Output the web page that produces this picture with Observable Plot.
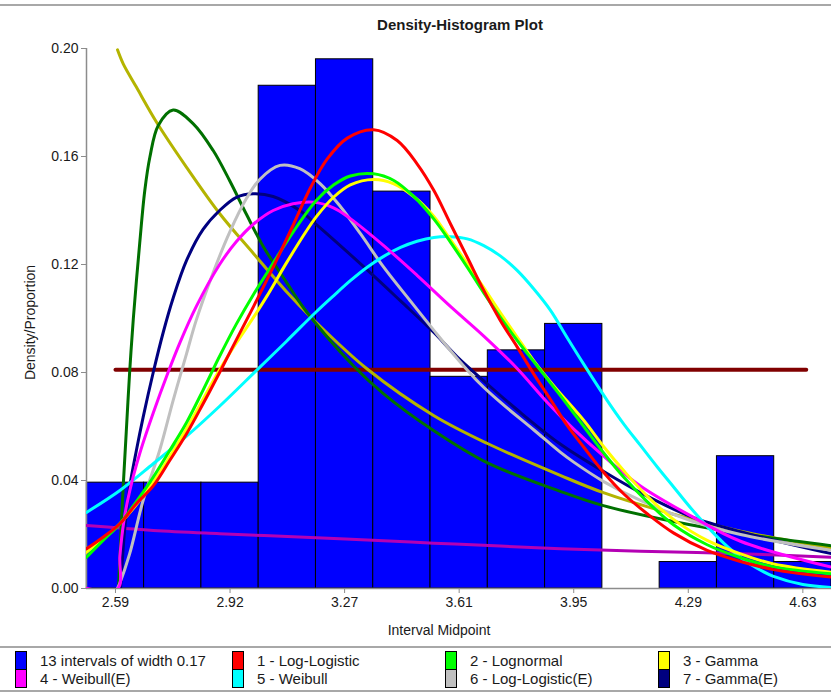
<!DOCTYPE html>
<html><head><meta charset="utf-8">
<script src="https://cdn.jsdelivr.net/npm/d3@7"></script>
<script src="https://cdn.jsdelivr.net/npm/@observablehq/plot@0.6"></script>
<style>
body{margin:0;background:#fff;font-family:"Liberation Sans",Arial,sans-serif;color:#1a1a1a;}
#wrap{position:relative;width:831px;height:694px;overflow:hidden;background:#fff}
#topline{position:absolute;left:0;top:4px;width:831px;height:2px;background:#a8a8a8}
#title{position:absolute;left:89px;width:742px;top:15px;text-align:center;font-weight:bold;font-size:15px;line-height:20px}
#chart{position:absolute;left:0;top:36px}
.rule{position:absolute;left:0;width:831px;height:2px;background:#a8a8a8}
.sw{position:absolute;width:10px;height:17px;border:1px solid #000}
.lab{position:absolute;font-size:15px;line-height:18px;white-space:nowrap}
</style></head>
<body><div id="wrap">
<div id="topline"></div>
<div id="title">Density-Histogram Plot</div>
<div id="chart"></div>
<div class="rule" style="top:646px"></div>
<div class="rule" style="top:690px"></div>
<div id="legend"></div>
</div>
<script>
// ---- histogram ----
const binMid = [2.59, 2.76, 2.93, 3.10, 3.27, 3.44, 3.61, 3.78, 3.95, 4.12, 4.29, 4.46, 4.63];
const binDensity = [0.0392, 0.0392, 0.0392, 0.1862, 0.196, 0.147, 0.0784, 0.0882, 0.098, 0, 0.0098, 0.049, 0.0098];
const binWidth = 0.17;

// ---- axes ----
const yTicks = [0, 0.04, 0.08, 0.12, 0.16, 0.20];
const xTickPos = [2.59, 2.93, 3.27, 3.61, 3.95, 4.29, 4.63];
const xTickLabels = ["2.59", "2.92", "3.27", "3.61", "3.95", "4.29", "4.63"];

// ---- fitted density curves [x, density] ----
const logLogistic = [[2.504,0.0147],[2.553,0.019],[2.603,0.024],[2.652,0.0314],[2.702,0.0380],[2.751,0.0474],[2.801,0.0573],[2.850,0.0684],[2.899,0.0800],[2.949,0.0922],[3.000,0.1045],[3.058,0.1190],[3.117,0.1345],[3.169,0.1485],[3.218,0.1590],[3.278,0.1668],[3.356,0.1699],[3.426,0.1659],[3.485,0.1573],[3.535,0.1474],[3.584,0.1351],[3.634,0.1227],[3.683,0.1104],[3.732,0.0993],[3.782,0.0895],[3.831,0.0795],[3.881,0.0700],[3.930,0.0605],[3.980,0.0523],[4.039,0.0430],[4.098,0.0351],[4.168,0.0277],[4.247,0.0205],[4.346,0.0141],[4.445,0.0100],[4.543,0.0070],[4.715,0.0042]];
const lognormal = [[2.504,0.0116],[2.553,0.0178],[2.603,0.024],[2.652,0.0322],[2.702,0.0412],[2.751,0.0511],[2.801,0.0615],[2.850,0.0735],[2.899,0.0860],[2.949,0.0980],[3.000,0.1090],[3.058,0.1205],[3.117,0.1320],[3.186,0.1437],[3.238,0.1495],[3.287,0.1528],[3.356,0.1536],[3.416,0.1511],[3.475,0.1452],[3.535,0.1368],[3.584,0.1283],[3.634,0.1190],[3.683,0.1095],[3.732,0.1005],[3.782,0.0919],[3.841,0.0825],[3.910,0.0715],[3.980,0.0600],[4.039,0.0502],[4.098,0.0413],[4.168,0.0322],[4.247,0.0235],[4.346,0.0162],[4.445,0.0114],[4.543,0.0080],[4.715,0.0054]];
const gamma = [[2.504,0.0134],[2.603,0.024],[2.702,0.0394],[2.801,0.0592],[2.899,0.0810],[2.949,0.0910],[3.000,0.1005],[3.038,0.1080],[3.097,0.1205],[3.157,0.1325],[3.188,0.1380],[3.238,0.1450],[3.287,0.1495],[3.356,0.1515],[3.416,0.1499],[3.475,0.1452],[3.535,0.1378],[3.584,0.1292],[3.634,0.1203],[3.683,0.1114],[3.732,0.1022],[3.782,0.0931],[3.831,0.0844],[3.891,0.0750],[3.980,0.0622],[4.039,0.0525],[4.098,0.0437],[4.168,0.0342],[4.247,0.0255],[4.346,0.0178],[4.445,0.0128],[4.543,0.0091],[4.715,0.0060]];
const weibullE = [[2.504,0],[2.597,0],[2.603,0.012],[2.615,0.025],[2.632,0.036],[2.662,0.050],[2.702,0.065],[2.746,0.080],[2.781,0.091],[2.830,0.1045],[2.899,0.1200],[2.949,0.1285],[3.000,0.1350],[3.058,0.1400],[3.117,0.1425],[3.177,0.1431],[3.237,0.1410],[3.287,0.1370],[3.386,0.1270],[3.485,0.1160],[3.584,0.1045],[3.683,0.0935],[3.782,0.0815],[3.871,0.0690],[3.950,0.0590],[4.039,0.0490],[4.148,0.0380],[4.296,0.0270],[4.445,0.0175],[4.715,0.0079]];
const weibull = [[2.504,0.0282],[2.603,0.0363],[2.702,0.0462],[2.801,0.0564],[2.899,0.0675],[3.008,0.0807],[3.097,0.0915],[3.186,0.1025],[3.238,0.1085],[3.287,0.1140],[3.337,0.1190],[3.386,0.1230],[3.436,0.1263],[3.485,0.1286],[3.535,0.1300],[3.584,0.1303],[3.634,0.1295],[3.683,0.1270],[3.732,0.1232],[3.782,0.1178],[3.831,0.1110],[3.881,0.1030],[3.930,0.0930],[3.980,0.0830],[4.049,0.0697],[4.098,0.0610],[4.148,0.0530],[4.198,0.0450],[4.247,0.0375],[4.296,0.0300],[4.346,0.0230],[4.395,0.0168],[4.445,0.0115],[4.494,0.0075],[4.543,0.0045],[4.630,0.0015],[4.715,0.0004]];
const logLogisticE = [[2.596,0],[2.603,0.002],[2.632,0.0128],[2.672,0.0326],[2.721,0.0511],[2.761,0.0696],[2.801,0.0870],[2.830,0.0995],[2.880,0.1170],[2.929,0.1320],[2.979,0.1445],[3.018,0.1515],[3.078,0.1567],[3.137,0.1555],[3.198,0.1499],[3.258,0.1414],[3.317,0.1314],[3.386,0.1190],[3.465,0.1065],[3.535,0.0956],[3.604,0.0852],[3.669,0.0762],[3.732,0.0690],[3.831,0.0588],[3.910,0.0505],[3.950,0.0468],[4.039,0.0396],[4.148,0.0326],[4.296,0.0252],[4.445,0.0200],[4.715,0.0141]];
const gammaE = [[2.605,0],[2.618,0.0227],[2.632,0.0375],[2.652,0.0511],[2.672,0.0634],[2.702,0.0800],[2.732,0.0950],[2.761,0.1075],[2.801,0.1215],[2.850,0.1330],[2.899,0.1400],[2.949,0.1449],[3.000,0.1462],[3.058,0.1452],[3.137,0.1400],[3.189,0.1345],[3.337,0.1180],[3.436,0.1065],[3.535,0.0948],[3.604,0.0858],[3.693,0.0758],[3.782,0.0662],[3.910,0.0535],[4.039,0.0433],[4.148,0.0355],[4.296,0.0267],[4.445,0.0210],[4.715,0.0129]];
const darkGreenFit = [[2.599,0],[2.606,0.020],[2.613,0.038],[2.622,0.058],[2.632,0.080],[2.643,0.100],[2.662,0.128],[2.677,0.1474],[2.692,0.1597],[2.717,0.1715],[2.761,0.1772],[2.821,0.1721],[2.880,0.1622],[2.929,0.1510],[2.979,0.1385],[3.028,0.1268],[3.097,0.1135],[3.157,0.1025],[3.296,0.0825],[3.385,0.0722],[3.534,0.0585],[3.694,0.0465],[3.910,0.0360],[4.038,0.0307],[4.246,0.0248],[4.445,0.0204],[4.715,0.0158]];
const oliveFit = [[2.596,0.1995],[2.613,0.1943],[2.652,0.1857],[2.712,0.1727],[2.801,0.1560],[2.899,0.1389],[3.000,0.1240],[3.097,0.1100],[3.178,0.0995],[3.338,0.0812],[3.534,0.0641],[3.694,0.0537],[3.910,0.0419],[4.038,0.0355],[4.246,0.0275],[4.445,0.0212],[4.715,0.0150]];
const purpleFit = [[2.504,0.0233],[2.702,0.0215],[2.899,0.0203],[3.186,0.0188],[3.337,0.0180],[3.535,0.0168],[3.732,0.0157],[3.910,0.0147],[4.148,0.0138],[4.445,0.0129],[4.715,0.0116]];
const uniformFit = [[2.59,0.081],[4.64,0.081]];

// ---- legend ----
const legendLabels = ["13 intervals of width 0.17", "1 - Log-Logistic", "2 - Lognormal", "3 - Gamma",
                      "4 - Weibull(E)", "5 - Weibull", "6 - Log-Logistic(E)", "7 - Gamma(E)"];
const legendColors = ["#0000ff", "#ff0000", "#00ff00", "#ffff00", "#ff00ff", "#00ffff", "#c0c0c0", "#000080"];

const xDomain = [2.504, 4.715];

// drawn bottom-to-top
const curves = [
  [uniformFit, "#800000", 4],
  [purpleFit, "#b400b4", 3],
  [oliveFit, "#b4b400", 3],
  [darkGreenFit, "#007000", 3],
  [gammaE, "#000080", 3],
  [logLogisticE, "#c0c0c0", 3],
  [weibull, "#00ffff", 3],
  [weibullE, "#ff00ff", 3],
  [gamma, "#ffff00", 3],
  [lognormal, "#00ff00", 3],
  [logLogistic, "#ff0000", 3]
];

const bars = binMid.map((m, i) => ({m, d: binDensity[i]})).filter(b => b.d > 0);
const xLabelMap = new Map(xTickPos.map((p, i) => [p, xTickLabels[i]]));

const chart = Plot.plot({
  width: 831, height: 610,
  marginLeft: 86, marginRight: 0, marginTop: 12, marginBottom: 58,
  x: {domain: xDomain},
  y: {domain: [0, 0.2]},
  style: {fontFamily: '"Liberation Sans", Arial, sans-serif', fontSize: "14px", color: "#1a1a1a", background: "white", overflow: "visible"},
  marks: [
    Plot.rect(bars, {x1: b => b.m - binWidth / 2, x2: b => b.m + binWidth / 2, y1: 0, y2: "d", fill: "#0000ff", stroke: "#000", strokeWidth: 1, inset: 0}),
    Plot.ruleY([0], {stroke: "#8c8c8c", strokeWidth: 1.5}),
    Plot.ruleX([xDomain[0]], {y1: 0, y2: 0.2, stroke: "#8c8c8c", strokeWidth: 1.5}),
    ...curves.map(([pts, color, w]) => Plot.line(pts, {stroke: color, strokeWidth: w, curve: "catmull-rom", strokeLinecap: "round", clip: true})),
    Plot.axisY({ticks: yTicks, tickFormat: d3.format(".2f"), tickSize: 5, tickPadding: 3, label: null, stroke: "#8c8c8c"}),
    Plot.axisX({ticks: xTickPos, tickFormat: d => xLabelMap.get(d), tickSize: 5, tickPadding: 4, label: null, stroke: "#8c8c8c"}),
    Plot.text(["Density/Proportion"], {frameAnchor: "left", textAnchor: "middle", rotate: -90, dx: -56, dy: 4, fontSize: 14}),
    Plot.text(["Interval Midpoint"], {frameAnchor: "bottom", dy: 46, dx: -20, fontSize: 14})
  ]
});
document.getElementById("chart").appendChild(chart);

// legend layout
const colX = [15, 232, 445, 658];
const rowY = [651, 669];
const lg = document.getElementById("legend");
legendLabels.forEach((t, i) => {
  const c = i % 4, r = Math.floor(i / 4);
  const sw = document.createElement("div");
  sw.className = "sw";
  sw.style.left = colX[c] + "px";
  sw.style.top = rowY[r] + "px";
  sw.style.background = legendColors[i];
  lg.appendChild(sw);
  const lb = document.createElement("div");
  lb.className = "lab";
  lb.textContent = t;
  lb.style.left = (colX[c] + 25) + "px";
  lb.style.top = (rowY[r] + 1) + "px";
  lg.appendChild(lb);
});
</script>
</body></html>
